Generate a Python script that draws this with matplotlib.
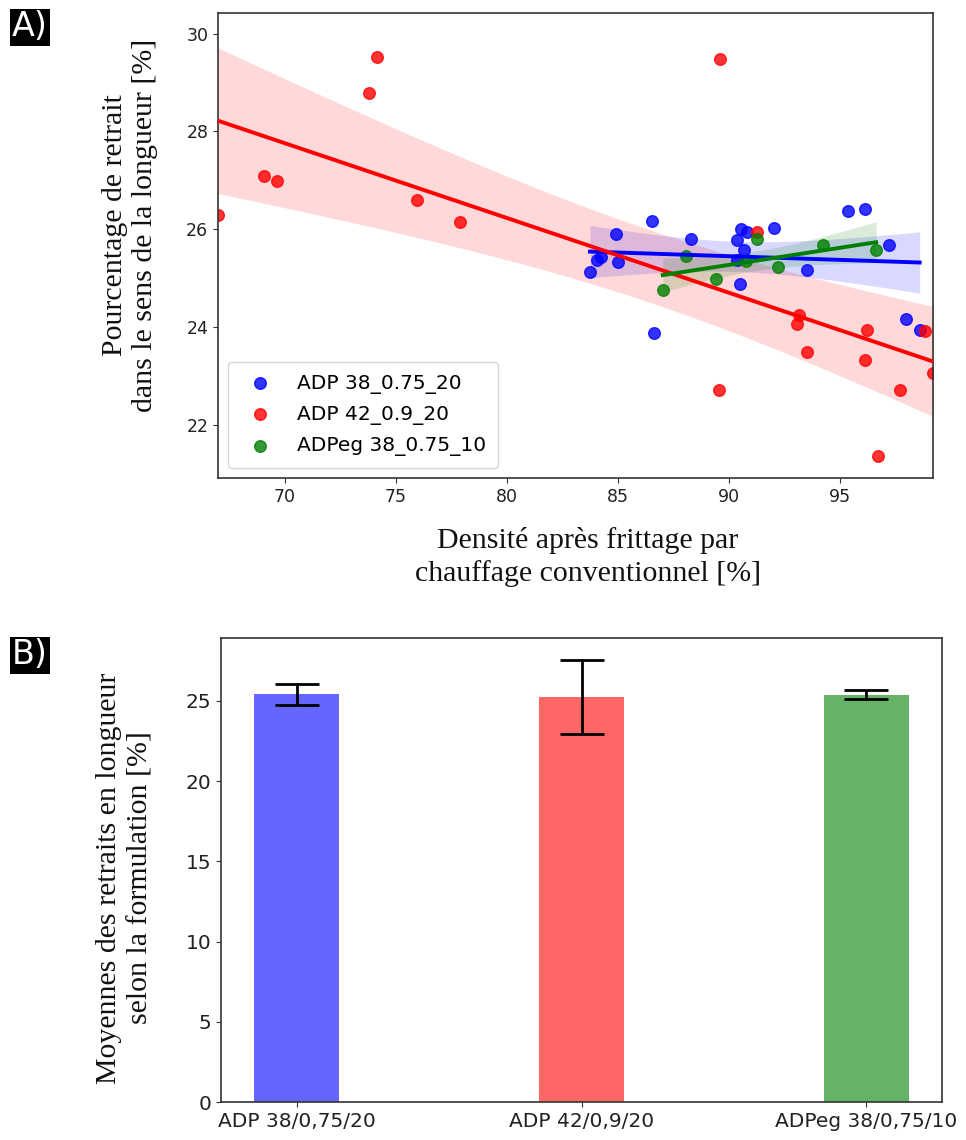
import numpy as np
import matplotlib
matplotlib.use("Agg")
import matplotlib.pyplot as plt

# Données : densité [%] et retrait en longueur [%]
x_adp38 = [86.56, 84.91, 83.75, 84.08, 84.23, 85.02, 88.29, 86.64, 90.54, 90.84,
           90.39, 90.69, 90.39, 90.50, 92.02, 93.54, 95.38, 96.15, 97.22, 98.00, 98.60]
y_adp38 = [26.17, 25.91, 25.12, 25.37, 25.44, 25.33, 25.81, 23.89, 26.01, 25.94,
           25.78, 25.57, 25.37, 24.89, 26.03, 25.16, 26.37, 26.42, 25.69, 24.16, 23.94]

x_adp42 = [67.00, 69.07, 69.67, 73.78, 74.17, 75.98, 77.90, 91.29, 89.54, 93.17,
           93.06, 93.54, 96.25, 96.14, 97.70, 98.84, 99.20, 96.73, 89.60]
y_adp42 = [26.30, 27.09, 26.99, 28.78, 29.52, 26.59, 26.16, 25.94, 22.71, 24.24,
           24.06, 23.50, 23.94, 23.33, 22.71, 23.92, 23.07, 21.37, 29.49]

x_adpeg = [87.03, 88.06, 89.43, 90.77, 91.29, 92.22, 94.24, 96.64]
y_adpeg = [24.76, 25.45, 24.99, 25.36, 25.81, 25.23, 25.69, 25.57]

labels = ['ADP 38_0.75_20', 'ADP 42_0.9_20', 'ADPeg 38_0.75_10']
colors = ['blue', 'red', 'green']

# Moyennes et écarts-types par formulation
formulations = ['ADP 38/0,75/20', 'ADP 42/0,9/20', 'ADPeg 38/0,75/10']
moyennes = [25.42, 25.25, 25.40]
ecarts = [0.65, 2.30, 0.30]


def regression(x, y, grid):
    x = np.asarray(x)
    y = np.asarray(y)
    pente, origine = np.polyfit(x, y, 1)
    yhat = origine + pente * grid
    n = len(x)
    resid = y - (origine + pente * x)
    s2 = (resid @ resid) / (n - 2)
    se = np.sqrt(s2 * (1 / n + (grid - x.mean()) ** 2 / ((x - x.mean()) ** 2).sum()))
    return yhat, 1.9 * se


fig = plt.figure(figsize=(9.66, 11.4), dpi=100)
serif = dict(family='Liberation Serif', fontsize=21.5, linespacing=1.25, color='#111111')

# A) nuage de points + régressions
ax1 = fig.add_axes([218 / 966, 1 - 478 / 1140, 715 / 966, 465 / 1140])
series = [(x_adp38, y_adp38), (x_adp42, y_adp42), (x_adpeg, y_adpeg)]
for (x, y), lab, c in zip(series, labels, colors):
    ax1.scatter(x, y, s=70, color=c, alpha=0.8, linewidths=1, label=lab, zorder=2)
    grid = np.linspace(min(x), max(x), 100)
    yhat, err = regression(x, y, grid)
    ax1.plot(grid, yhat, color=c, lw=2.8, zorder=3)
    ax1.fill_between(grid, yhat - err, yhat + err, color=c, alpha=0.15, lw=0, zorder=1)

ax1.set_xlim(min(x_adp42), max(x_adp42))
ax1.set_ylim(20.92, 30.42)
ax1.set_xticks([70, 75, 80, 85, 90, 95])
ax1.set_yticks([22, 24, 26, 28, 30])
ax1.tick_params(labelsize=12.5, colors='#333333', labelcolor='#222222')
for sp in ax1.spines.values():
    sp.set_color('#333333')
    sp.set_linewidth(1.2)
ax1.legend(loc='lower left', fontsize=14.5, handletextpad=0.8, labelspacing=0.55,
           borderpad=0.6, framealpha=0.8, edgecolor='#cccccc')

fig.text(130 / 966, 1 - 225 / 1140, 'Pourcentage de retrait\ndans le sens de la longueur [%]',
         rotation=90, ha='center', va='center', **serif)
fig.text(588 / 966, 1 - 557 / 1140, 'Densité après frittage par\nchauffage conventionnel [%]',
         ha='center', va='center', **serif)

# B) moyennes par formulation
ax2 = fig.add_axes([221 / 966, 1 - 1102 / 1140, 721 / 966, 464 / 1140])
pos = np.arange(len(formulations))
ax2.bar(pos, moyennes, width=0.3, color=colors, alpha=0.6, yerr=ecarts,
        error_kw=dict(ecolor='black', elinewidth=2, capsize=15.5, capthick=2))
ax2.set_xticks(pos)
ax2.set_xticklabels(formulations)
ax2.set_yticks([0, 5, 10, 15, 20, 25])
ax2.tick_params(labelsize=14.5, colors='#333333', labelcolor='#222222')
for sp in ax2.spines.values():
    sp.set_color('#333333')
    sp.set_linewidth(1.2)

fig.text(125 / 966, 1 - 878 / 1140, 'Moyennes des retraits en longueur\nselon la formulation [%]',
         rotation=90, ha='center', va='center', **serif)

# étiquettes des panneaux
for lettre, ypix in [('A)', 27), ('B)', 655)]:
    fig.text(30 / 966, 1 - ypix / 1140, lettre, color='white', fontsize=24,
             ha='center', va='center',
             bbox=dict(facecolor='black', edgecolor='none', boxstyle='square,pad=0.06'))

fig.savefig('out.png', dpi=100)
